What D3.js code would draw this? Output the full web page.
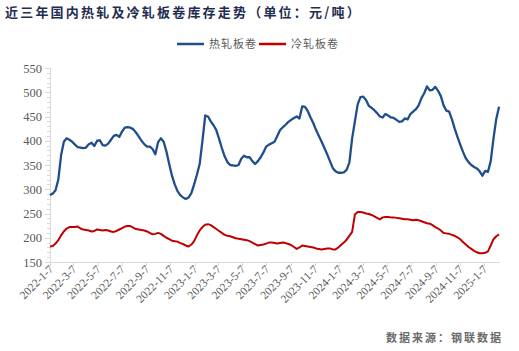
<!DOCTYPE html>
<html><head><meta charset="utf-8">
<script src="https://cdn.jsdelivr.net/npm/d3@7/dist/d3.min.js"></script>
<style>
html,body{margin:0;padding:0;background:#fff;}
svg{display:block;}
</style></head>
<body>
<svg id="c" width="519" height="351"></svg>
<script>
const title = "近三年国内热轧及冷轧板卷库存走势（单位：元/吨）";
const source = "数据来源：钢联数据";
const seriesNames = ["热轧板卷", "冷轧板卷"];
const startDate = "2022-01-07";
const tickLabels = ["2022-1-7","2022-3-7","2022-5-7","2022-7-7","2022-9-7","2022-11-7","2023-1-7","2023-3-7","2023-5-7","2023-7-7","2023-9-7","2023-11-7","2024-1-7","2024-3-7","2024-5-7","2024-7-7","2024-9-7","2024-11-7","2025-1-7"];
const yTicks = [150,200,250,300,350,400,450,500,550];
const hotRolled = [288,291,298,320,370,398,405,402,398,392,387,386,385,386,393,396,389,400,401,391,
390,394,402,410,412,408,419,427,428,427,424,417,409,400,393,388,388,383,372,397,
405,398,378,352,328,310,296,288,283,280,283,292,310,330,352,400,452,450,440,432,
422,404,385,368,356,350,349,348,350,363,369,366,366,358,352,358,366,376,388,392,
395,398,410,422,428,433,439,443,447,450,446,471,470,461,448,436,422,410,398,385,
372,358,344,337,334,334,335,340,355,405,440,475,490,491,484,472,468,463,457,450,
448,455,452,448,447,443,439,440,446,444,455,460,465,473,488,498,512,504,505,511,
503,492,473,462,460,444,425,408,392,377,364,356,350,346,343,337,328,338,336,358,
405,445,470];
const coldRolled = [182,183,188,195,205,213,219,222,222,222,223,219,217,216,215,213,214,217,216,215,
216,215,213,212,214,217,220,223,224,224,221,218,217,216,215,213,210,207,208,210,
208,204,200,197,194,193,192,189,187,184,182,186,193,205,215,222,227,228,226,222,
218,214,210,206,204,203,201,199,198,197,196,195,193,190,187,184,185,186,188,190,
190,189,188,189,190,189,187,185,181,177,180,184,183,182,181,180,178,177,176,177,
178,178,176,176,180,185,190,196,204,212,248,253,253,252,250,249,247,244,241,238,
242,243,243,242,242,241,240,239,238,238,237,236,237,236,234,232,230,229,226,222,
219,215,210,209,208,206,204,201,197,191,186,181,177,173,170,168,168,169,172,184,
197,203,207];

const parse = d3.timeParse("%Y-%m-%d");
const d0 = parse(startDate);
const dates = hotRolled.map((_, i) => d3.timeDay.offset(d0, 7 * i));
const tickDates = tickLabels.map(s => parse(s.split("-").map((p,i)=> i? p.padStart(2,"0"):p).join("-")));

const svg = d3.select("#c");
const x = d3.scaleTime().domain([tickDates[0], tickDates[tickDates.length-1]]).range([50, 484]);
const y = d3.scaleLinear().domain([150, 550]).range([262, 68]);

const numFont = "'Liberation Serif','Times New Roman',serif";
const cjkFont = "'Noto Sans CJK SC','Noto Sans',sans-serif";
const axisColor = "#d9d9d9";
const textColor = "#595959";

// title
svg.append("text").attr("x", 5).attr("y", 17)
  .attr("font-family", cjkFont).attr("font-size", 13).attr("font-weight", "bold")
  .attr("letter-spacing", 2.2).attr("fill", "#1f2d50").text(title);

// legend
const legendColors = ["#1f4e8c", "#c00000"];
const legendX = [177, 259];
seriesNames.forEach((n, i) => {
  svg.append("line").attr("x1", legendX[i]).attr("x2", legendX[i] + 27)
    .attr("y1", 44).attr("y2", 44).attr("stroke", legendColors[i]).attr("stroke-width", 2.5);
  svg.append("text").attr("x", legendX[i] + 32).attr("y", 48)
    .attr("font-family", cjkFont).attr("font-size", 11).attr("letter-spacing", 1)
    .attr("fill", textColor).text(n);
});

// y axis
const minor = d3.range(150, 551, 10);
const yAxisG = svg.append("g");
yAxisG.selectAll("line.minor").data(minor).join("line")
  .attr("x1", 47).attr("x2", 50).attr("y1", d => Math.round(y(d))+0.5).attr("y2", d => Math.round(y(d))+0.5)
  .attr("stroke", axisColor).attr("stroke-width", 1);
yAxisG.selectAll("line.major").data(yTicks).join("line")
  .attr("x1", 45).attr("x2", 50).attr("y1", d => Math.round(y(d))+0.5).attr("y2", d => Math.round(y(d))+0.5)
  .attr("stroke", axisColor).attr("stroke-width", 1);
yAxisG.append("line").attr("x1", 50.5).attr("x2", 50.5).attr("y1", y(550)).attr("y2", y(150))
  .attr("stroke", axisColor).attr("stroke-width", 1);
yAxisG.selectAll("text").data(yTicks).join("text")
  .attr("x", 42).attr("y", d => y(d) + 4.5).attr("text-anchor", "end")
  .attr("font-family", numFont).attr("font-size", 12.5).attr("fill", textColor)
  .text(d => d);

// x axis
const xAxisG = svg.append("g");
xAxisG.append("line").attr("x1", 50).attr("x2", 500).attr("y1", 262.5).attr("y2", 262.5)
  .attr("stroke", axisColor).attr("stroke-width", 1);
xAxisG.selectAll("line.t").data(tickDates).join("line")
  .attr("x1", d => Math.round(x(d))+0.5).attr("x2", d => Math.round(x(d))+0.5)
  .attr("y1", 262).attr("y2", 266).attr("stroke", axisColor);
xAxisG.selectAll("text").data(tickLabels).join("text")
  .attr("transform", (d, i) => `translate(${x(tickDates[i]) + 4},${270}) rotate(-45)`)
  .attr("text-anchor", "end")
  .attr("font-family", numFont).attr("font-size", 11.5).attr("fill", textColor)
  .text(d => d);

// lines
const line = vals => d3.line().x((d, i) => x(dates[i])).y(d => y(d)).curve(d3.curveLinear)(vals);
svg.append("path").attr("d", line(coldRolled)).attr("fill", "none")
  .attr("stroke", legendColors[1]).attr("stroke-width", 2).attr("stroke-linejoin", "round");
svg.append("path").attr("d", line(hotRolled)).attr("fill", "none")
  .attr("stroke", legendColors[0]).attr("stroke-width", 2.3).attr("stroke-linejoin", "round");

// source
svg.append("text").attr("x", 503).attr("y", 342).attr("text-anchor", "end")
  .attr("font-family", cjkFont).attr("font-size", 11).attr("font-weight", "bold").attr("letter-spacing", 2)
  .attr("fill", "#6b6b6b").text(source);
</script>
</body></html>
